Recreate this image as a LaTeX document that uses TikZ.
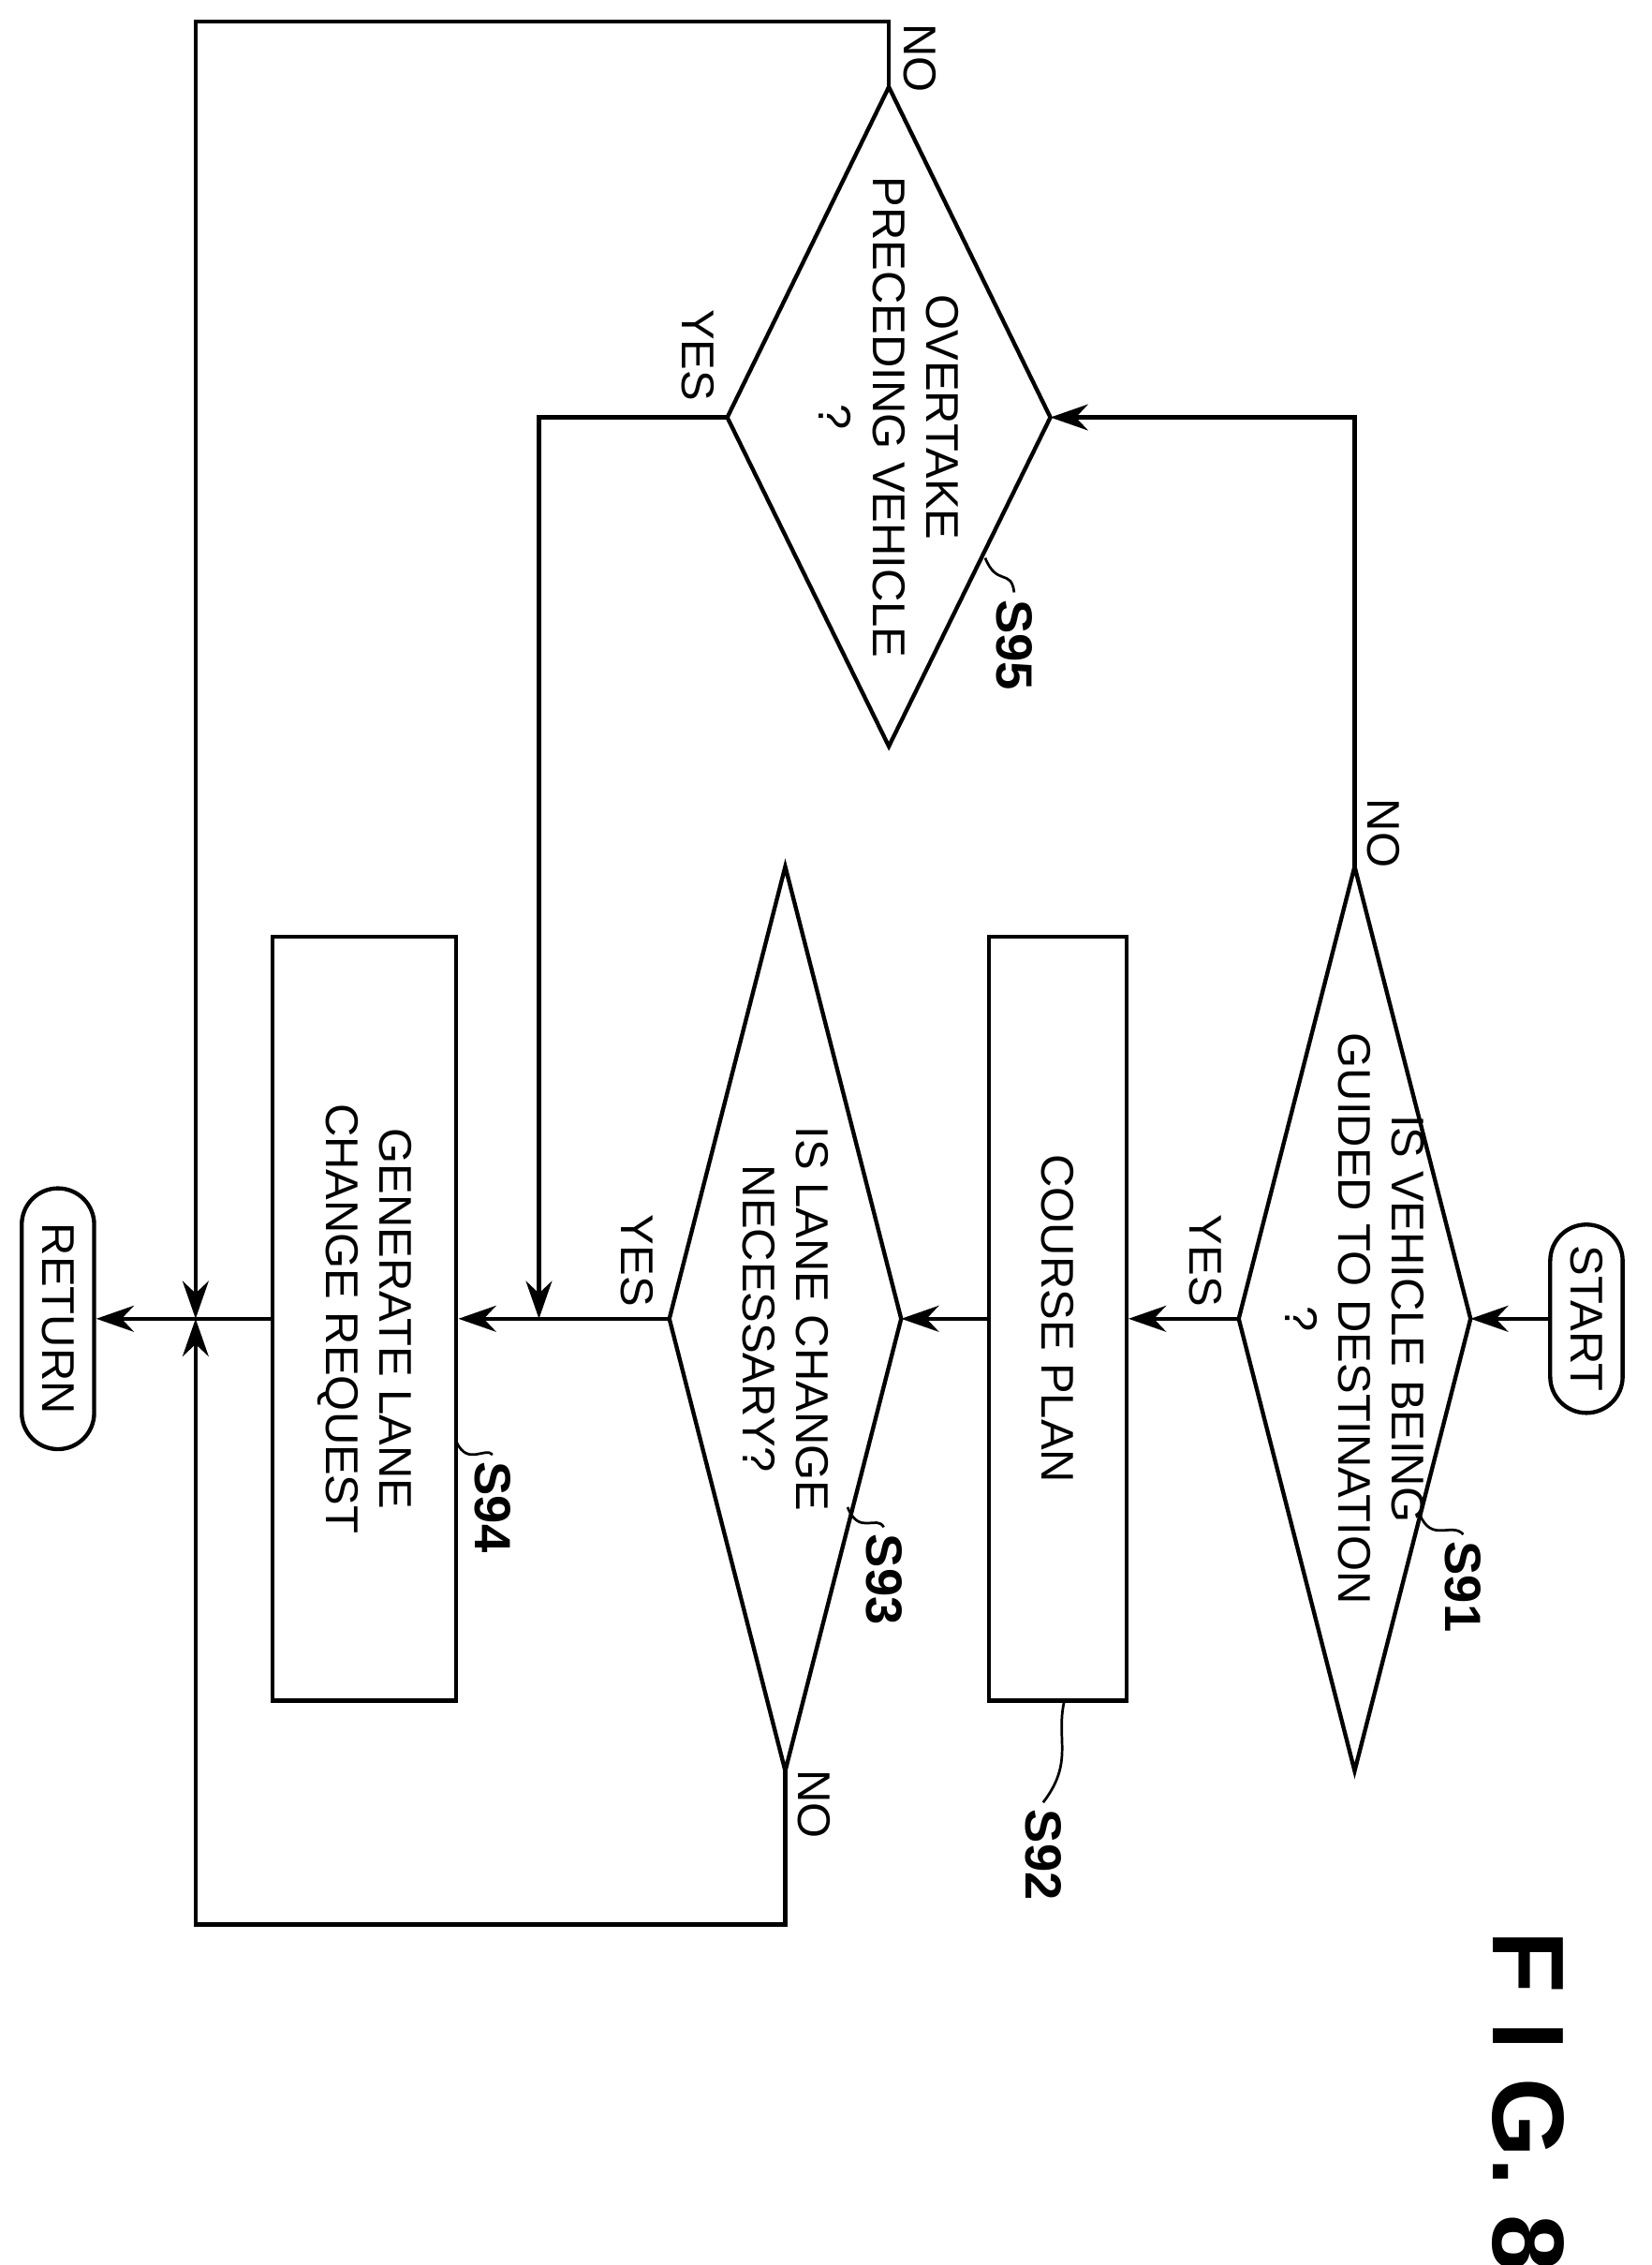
\documentclass[tikz,border=0pt]{standalone}
\usepackage{fontspec}
\setmainfont{Liberation Sans}
\usetikzlibrary{arrows.meta}

\begin{document}
\begin{tikzpicture}[x=1cm, y=1cm, line width=0.8pt, >={Stealth[length=2.6mm,width=1.8mm]},
    every node/.style={font=\fontsize{9}{10.5}\selectfont, align=center},
    term/.style={draw, rounded corners=0.25cm, rotate=-90, minimum height=0.5cm, inner sep=1pt},
    process/.style={draw, rectangle, rotate=-90, minimum width=5.27cm},
    lbl/.style={rotate=-90},
    steplbl/.style={rotate=-90, inner sep=1pt, font=\bfseries\fontsize{10}{12}\selectfont},
    tick/.style={line width=0.5pt}]
    \useasboundingbox (0,0) rectangle (11.40,-15.63);

    % decision S91
    \coordinate (s91n) at (10.15,-9.10);
    \coordinate (s91s) at (8.55,-9.10);
    \coordinate (s91w) at (9.35,-5.98);
    \coordinate (s91e) at (9.35,-12.22);
    \draw (s91n) -- (s91w) -- (s91s) -- (s91e) -- cycle;
    \node [lbl] (s91) at (9.35,-9.10) {IS VEHICLE BEING\\GUIDED TO DESTINATION\\?};

    % decision S93
    \coordinate (s93n) at (6.22,-9.10);
    \coordinate (s93s) at (4.62,-9.10);
    \coordinate (s93w) at (5.42,-5.98);
    \coordinate (s93e) at (5.42,-12.22);
    \draw (s93n) -- (s93w) -- (s93s) -- (s93e) -- cycle;
    \node [lbl] (s93) at (5.42,-9.10) {IS LANE CHANGE\\NECESSARY?};

    % decision S95
    \coordinate (s95n) at (7.25,-2.88);
    \coordinate (s95s) at (5.02,-2.88);
    \coordinate (s95w) at (6.135,-0.60);
    \coordinate (s95e) at (6.135,-5.15);
    \draw (s95n) -- (s95w) -- (s95s) -- (s95e) -- cycle;
    \node [lbl] (s95) at (6.135,-2.88) {OVERTAKE\\PRECEDING VEHICLE\\?};

    \node [term, minimum width=1.3cm] (start) at (10.95,-9.10) {START};
    \node [process, minimum height=0.95cm] (plan) at (7.30,-9.10) {COURSE PLAN};
    \node [process, minimum height=1.27cm] (request) at (2.515,-9.10) {GENERATE LANE\\CHANGE REQUEST};
    \node [term, minimum width=1.8cm] (return) at (0.40,-9.10) {RETURN};

    \coordinate (join) at (1.35,-9.10);
    \coordinate (merge) at (3.72,-9.10);

    % connectors
    \draw [->] (start.south) -- (s91n);
    \draw [->] (s91s) -- (plan.north);
    \draw [->] (plan.south) -- (s93n);
    \draw [->] (s93s) -- (request.north);
    \draw [->] (request.south) -- (return.north);
    \draw [->] (s91w) -- (9.35,-2.88) -- (s95n);
    \draw [->] (s95s) -- (3.72,-2.88) -- (merge);
    \draw [->] (s95w) -- (6.135,-0.15) -- (1.35,-0.15) -- (join);
    \draw [->] (s93e) -- (5.42,-13.28) -- (1.35,-13.28) -- (join);

    % branch labels
    \node [lbl] at (8.32,-8.70) {YES};
    \node [lbl] at (4.40,-8.70) {YES};
    \node [lbl] at (4.82,-2.45) {YES};
    \node [lbl] at (9.55,-5.75) {NO};
    \node [lbl] at (5.62,-12.45) {NO};
    \node [lbl] at (6.35,-0.40) {NO};

    % step labels
    \node [steplbl] (n91) at (10.10,-10.95) {S91};
    \draw [tick] (9.80,-10.45) .. controls (9.88,-10.65) and (10.02,-10.50) .. (n91.west);
    \node [steplbl] (n92) at (7.20,-12.80) {S92};
    \draw [tick] (7.35,-11.72) .. controls (7.28,-12.00) and (7.42,-12.15) .. (n92.west);
    \node [steplbl] (n93) at (6.10,-10.90) {S93};
    \draw [tick] (5.85,-10.40) .. controls (5.93,-10.60) and (6.05,-10.45) .. (n93.west);
    \node [steplbl] (n94) at (3.40,-10.40) {S94};
    \draw [tick] (3.15,-9.95) .. controls (3.23,-10.12) and (3.35,-9.98) .. (n94.west);
    \node [steplbl] (n95) at (7.00,-4.45) {S95};
    \draw [tick] (6.80,-3.85) .. controls (6.88,-4.05) and (6.98,-3.92) .. (n95.west);

    \node [rotate=-90, font=\bfseries\fontsize{20}{24}\selectfont] (fig) at (10.55,-14.50) {F I G. 8};
\end{tikzpicture}
\end{document}
